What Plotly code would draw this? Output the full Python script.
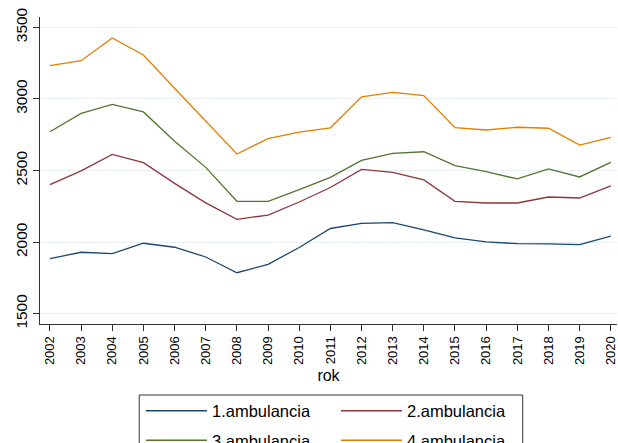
import plotly.graph_objects as go

years = list(range(2002, 2021))
amb1 = [1884, 1929, 1919, 1992, 1964, 1896, 1786, 1845, 1962, 2095, 2131, 2136, 2085, 2029, 2001, 1989, 1987, 1982, 2041]
amb2 = [2401, 2497, 2613, 2555, 2410, 2274, 2159, 2189, 2280, 2381, 2508, 2487, 2434, 2285, 2273, 2273, 2315, 2308, 2392]
amb3 = [2771, 2899, 2962, 2909, 2705, 2522, 2285, 2285, 2367, 2452, 2571, 2620, 2631, 2534, 2492, 2441, 2511, 2455, 2557]
amb4 = [3232, 3267, 3425, 3307, 3074, 2842, 2615, 2723, 2768, 2798, 3015, 3046, 3023, 2799, 2783, 2802, 2795, 2678, 2732]
names = ["1.ambulancia", "2.ambulancia", "3.ambulancia", "4.ambulancia"]
colors = ["#1a476f", "#90353b", "#55752f", "#e37e00"]
legend_ids = ["legend", "legend", "legend2", "legend2"]
yticks = [1500, 2000, 2500, 3000, 3500]

fig = go.Figure()
for vals, name, col, lg in zip([amb1, amb2, amb3, amb4], names, colors, legend_ids):
    fig.add_trace(go.Scatter(x=years, y=vals, mode="lines", name=name, legend=lg,
                             line=dict(color=col, width=1.3)))

font = "Arial, Liberation Sans, sans-serif"
leg_common = dict(orientation="h", x=0.175, xanchor="left", yanchor="top",
                  entrywidth=119, entrywidthmode="pixels",
                  bgcolor="rgba(0,0,0,0)", borderwidth=0,
                  font=dict(size=16.5, family=font), traceorder="normal",
                  itemwidth=61)
fig.update_layout(
    width=618, height=443,
    margin=dict(l=40, r=1, t=17, b=119, autoexpand=False),
    paper_bgcolor="white", plot_bgcolor="white",
    font=dict(family=font, color="black"),
    showlegend=True,
    legend=dict(y=-0.2264, **leg_common),
    legend2=dict(y=-0.3225, **leg_common),
    shapes=[dict(type="rect", xref="paper", yref="paper",
                 x0=0.172, x1=0.8366, y0=-0.2313, y1=-0.45,
                 line=dict(color="#333333", width=1), fillcolor="rgba(0,0,0,0)")],
    xaxis=dict(range=[2001.68, 2020.2], tickmode="array", tickvals=years,
               ticktext=[str(y) for y in years], tickangle=-90,
               tickfont=dict(size=13), ticks="outside", ticklen=6,
               tickcolor="#333333", showline=True, linecolor="#333333", linewidth=1,
               showgrid=False, zeroline=False,
               title=dict(text="rok", font=dict(size=16), standoff=5)),
    yaxis=dict(range=[1428, 3572], tickmode="array", tickvals=yticks,
               tickangle=-90, tickfont=dict(size=15.5), ticks="outside", ticklen=6,
               tickcolor="#333333", showline=True, linecolor="#333333", linewidth=1,
               showgrid=True, gridcolor="#e8f0f2", gridwidth=1, zeroline=False),
)

fig.write_html("out.html", config={"displayModeBar": False},
               post_script="document.body.style.margin='0';document.body.style.overflow='hidden';")
